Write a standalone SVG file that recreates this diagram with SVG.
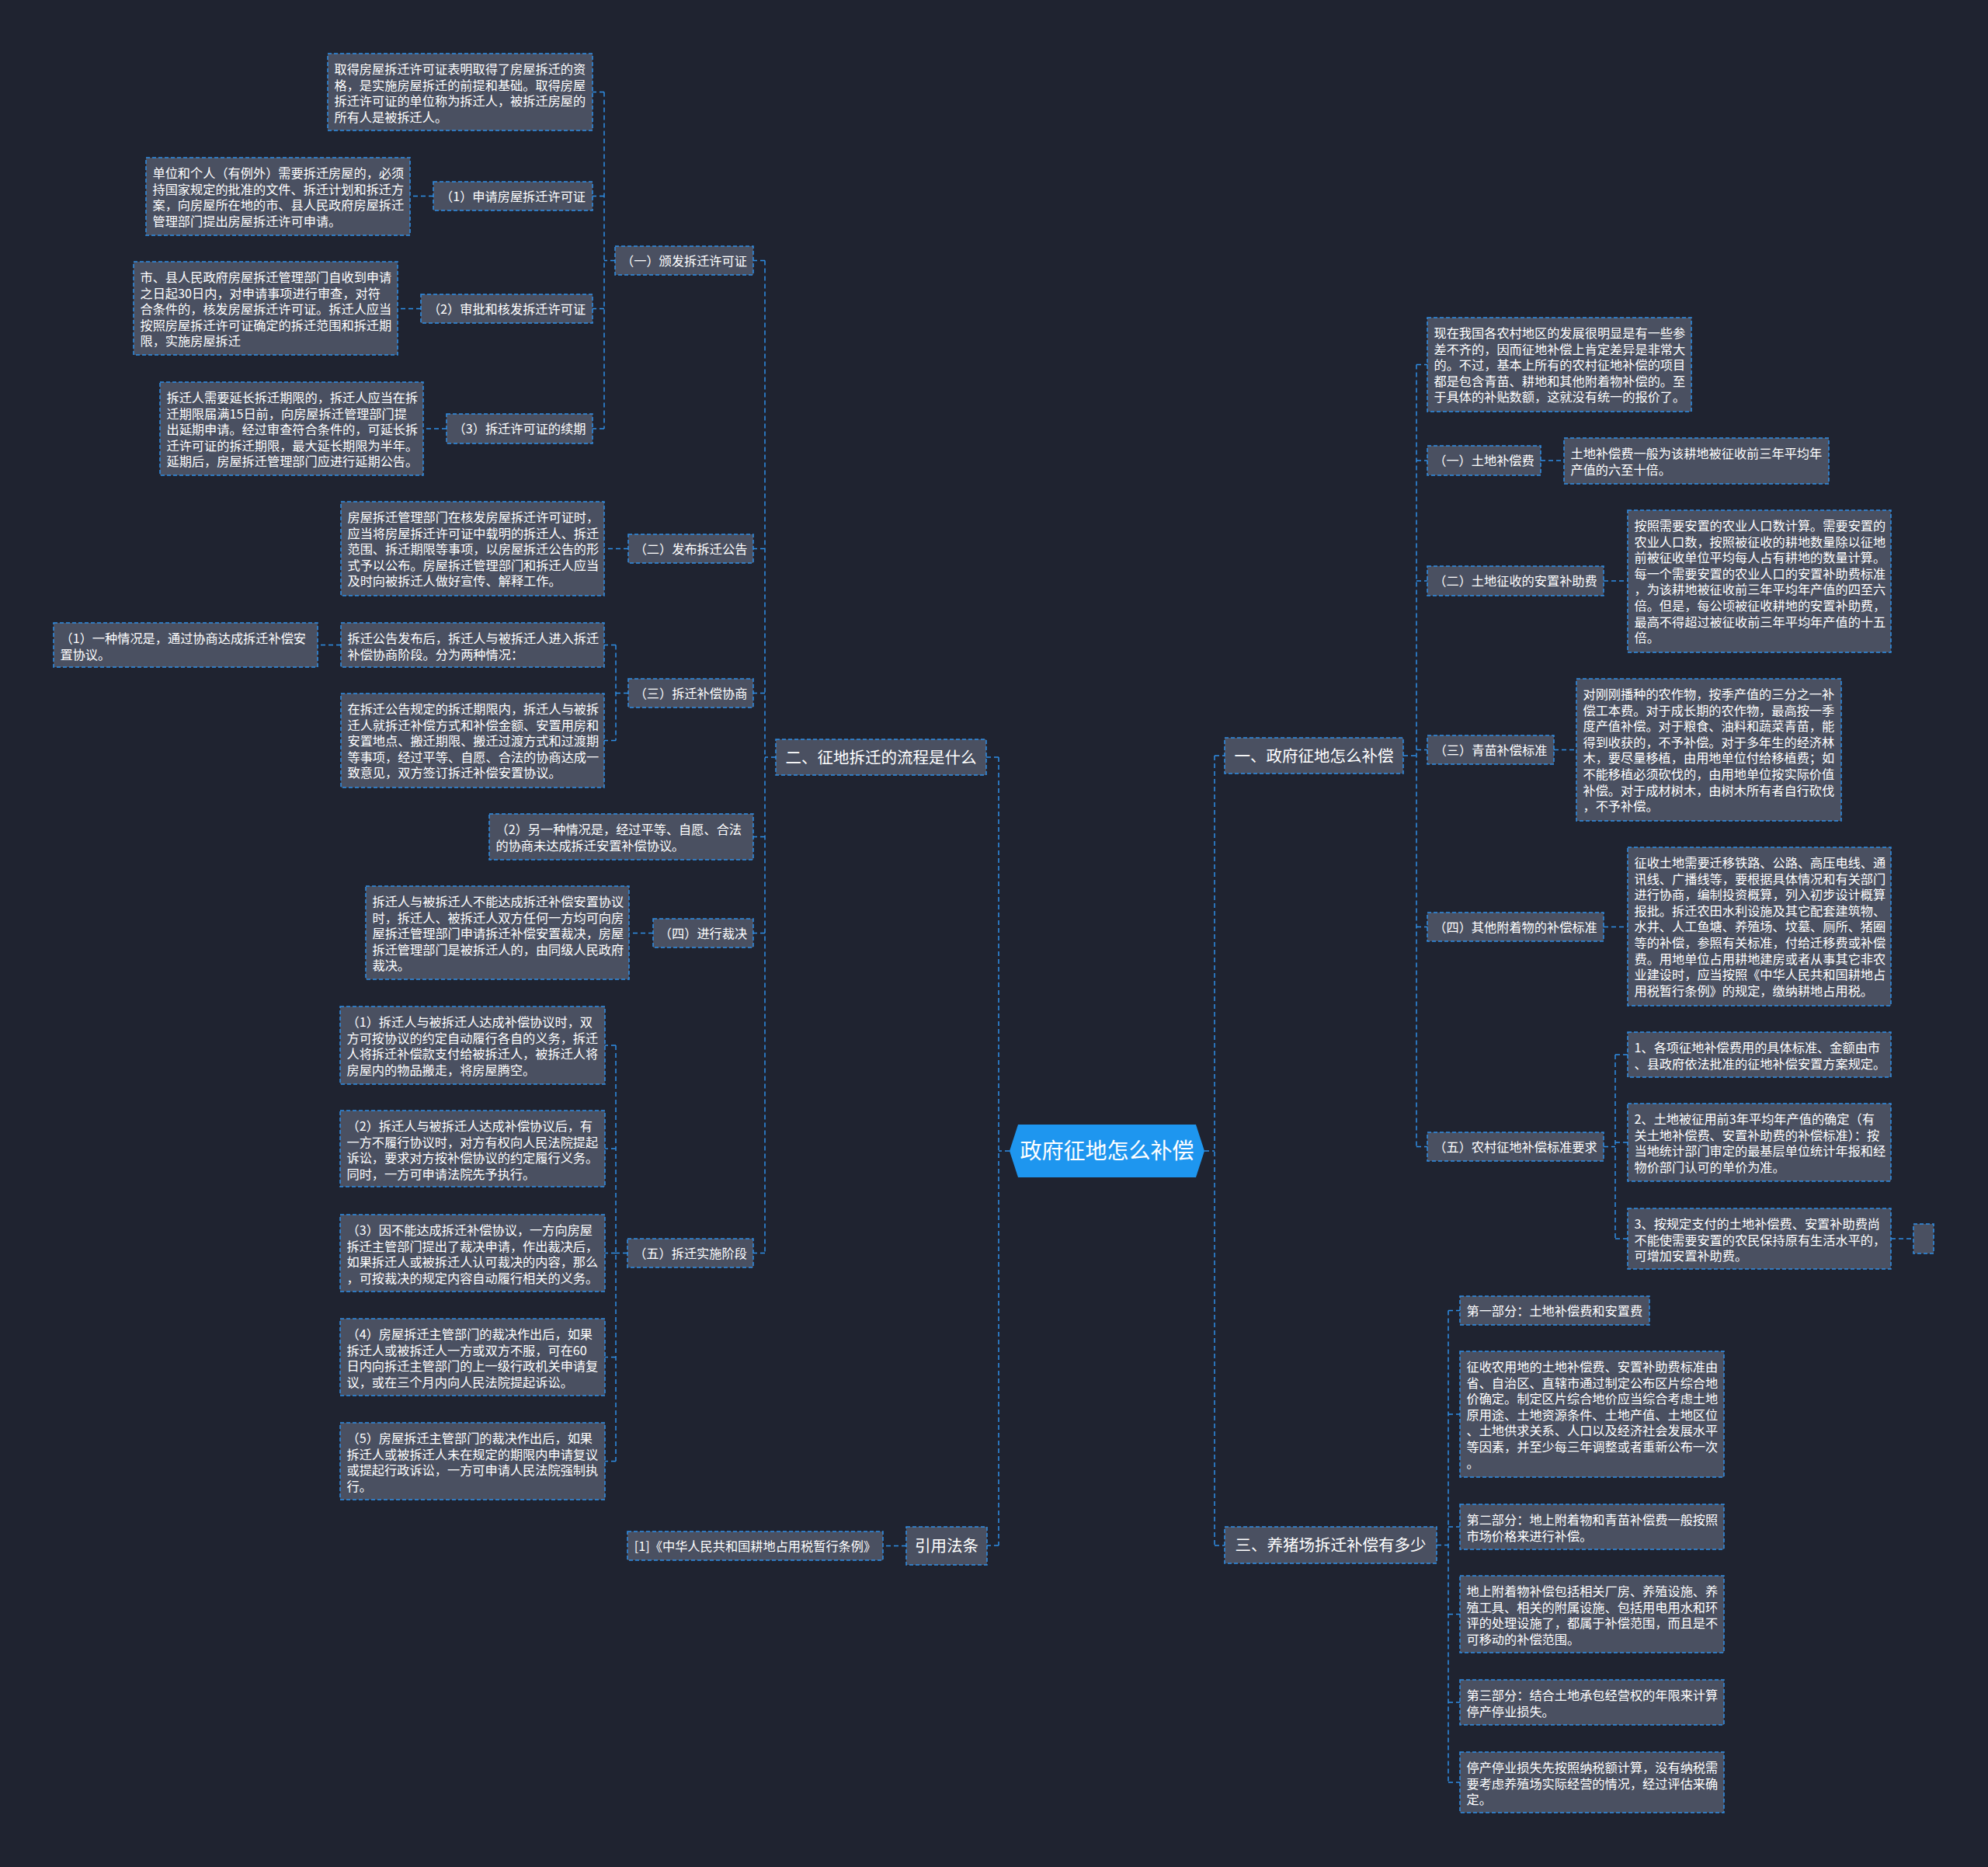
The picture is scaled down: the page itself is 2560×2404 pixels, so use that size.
<svg xmlns="http://www.w3.org/2000/svg" width="2560" height="2404" viewBox="0 0 2560 2404">
<style>
.bg{fill:#1f2330}
.n rect{fill:#4a5061;stroke:#2f8fe6;stroke-width:1.5;stroke-dasharray:5 3}
.n text{font-family:"Noto Sans CJK SC","Noto Sans",sans-serif;font-size:16.2px;fill:#ffffff}
.n text.c{text-anchor:middle}
.m text{font-size:20.5px}
.cn path{fill:none;stroke:#2f8fe6;stroke-width:1.5;stroke-dasharray:6 4}
</style>
<rect class="bg" x="0" y="0" width="2560" height="2404"/>

<g class="cn" id="connectors">
<path d="M1300,1482 H1286 M1286,975 V1990 M1286,975 H1270 M1286,1990 H1271"/>
<path d="M1551,1482 H1564 M1564,973 V1990 M1564,973 H1577 M1564,1990 H1577"/>
<path d="M999,975 H985 M985,335.5 V1613.5 M985,335.5 H970 M985,706.5 H970 M985,892.5 H970 M985,1077.5 H970 M985,1201.5 H970 M985,1613.5 H970"/>
<path d="M792,335.5 H778 M778,118.5 V552 M778,118.5 H763 M778,252.5 H763 M778,397.5 H763 M778,552 H763"/>
<path d="M558,252.5 H528 M542,397.5 H512 M575,552 H545"/>
<path d="M809,706.5 H778"/>
<path d="M809,892.5 H793 M793,830.5 V953.5 M793,830.5 H778 M793,953.5 H778 M439,830.5 H409"/>
<path d="M841,1201.5 H810"/>
<path d="M808,1613.5 H793 M793,1346 V1881.5 M793,1346 H779 M793,1479 H779 M793,1613.5 H779 M793,1747.5 H779 M793,1881.5 H779"/>
<path d="M1167,1990.5 H1137"/>
<path d="M1807,973 H1824 M1824,469.5 V1476.5 M1824,469.5 H1838 M1824,593 H1838 M1824,748 H1838 M1824,965.5 H1838 M1824,1193.5 H1838 M1824,1476.5 H1838"/>
<path d="M1984,593 H2014 M2065,748 H2096 M2001,965.5 H2030 M2065,1193.5 H2096"/>
<path d="M2065,1476.5 H2080 M2080,1358 V1595 M2080,1358 H2096 M2080,1471 H2096 M2080,1595 H2096 M2435,1595 H2464"/>
<path d="M1850,1989.5 H1865 M1865,1687.5 V2295 M1865,1687.5 H1880 M1865,1821 H1880 M1865,1966 H1880 M1865,2078.5 H1880 M1865,2192 H1880 M1865,2295 H1880"/>
</g>

<g id="center">
<polygon points="1300,1482 1311,1448 1540,1448 1551,1482 1540,1516 1311,1516" fill="#1e96ef"/>
<text x="1425.5" y="1492" text-anchor="middle" font-family="Noto Sans CJK SC, Noto Sans, sans-serif" font-size="28" fill="#ffffff">政府征地怎么补偿</text>
</g>

<g class="n m" id="m2"><rect x="999" y="952" width="271" height="46"/><text class="c" x="1134.5" y="982.5">二、征地拆迁的流程是什么</text></g>
<g class="n m" id="m1"><rect x="1577" y="950" width="230" height="46"/><text class="c" x="1692" y="980.5">一、政府征地怎么补偿</text></g>
<g class="n m" id="m3"><rect x="1577" y="1966" width="273" height="47"/><text class="c" x="1713.5" y="1997">三、养猪场拆迁补偿有多少</text></g>
<g class="n m" id="r1"><rect x="1167" y="1966" width="104" height="49"/><text class="c" x="1219" y="1998">引用法条</text></g>
<g class="n" id="r1c"><rect x="808" y="1972" width="329" height="37"/><text class="c" x="972.5" y="1996.5">[1]《中华人民共和国耕地占用税暂行条例》</text></g>

<g class="n" id="k1"><rect x="792" y="317" width="178" height="37"/><text class="c" x="881" y="341.5">（一）颁发拆迁许可证</text></g>
<g class="n" id="na"><rect x="422" y="69" width="341" height="99"/>
<text x="430.5" y="95">取得房屋拆迁许可证表明取得了房屋拆迁的资</text>
<text x="430.5" y="115.6">格，是实施房屋拆迁的前提和基础。取得房屋</text>
<text x="430.5" y="136.2">拆迁许可证的单位称为拆迁人，被拆迁房屋的</text>
<text x="430.5" y="156.8">所有人是被拆迁人。</text></g>
<g class="n" id="l1"><rect x="558" y="234" width="205" height="37"/><text class="c" x="660.5" y="258.5">（1）申请房屋拆迁许可证</text></g>
<g class="n" id="nb"><rect x="188" y="203" width="340" height="100"/>
<text x="196.5" y="229">单位和个人（有例外）需要拆迁房屋的，必须</text>
<text x="196.5" y="249.6">持国家规定的批准的文件、拆迁计划和拆迁方</text>
<text x="196.5" y="270.2">案，向房屋所在地的市、县人民政府房屋拆迁</text>
<text x="196.5" y="290.8">管理部门提出房屋拆迁许可申请。</text></g>
<g class="n" id="l2"><rect x="542" y="379" width="221" height="37"/><text class="c" x="652.5" y="403.5">（2）审批和核发拆迁许可证</text></g>
<g class="n" id="nc"><rect x="172" y="337" width="340" height="120"/>
<text x="180.5" y="363">市、县人民政府房屋拆迁管理部门自收到申请</text>
<text x="180.5" y="383.6">之日起30日内，对申请事项进行审查，对符</text>
<text x="180.5" y="404.2">合条件的，核发房屋拆迁许可证。拆迁人应当</text>
<text x="180.5" y="424.8">按照房屋拆迁许可证确定的拆迁范围和拆迁期</text>
<text x="180.5" y="445.4">限，实施房屋拆迁</text></g>
<g class="n" id="l3"><rect x="575" y="533" width="188" height="38"/><text class="c" x="669" y="558">（3）拆迁许可证的续期</text></g>
<g class="n" id="nd"><rect x="206" y="492" width="339" height="120"/>
<text x="214.5" y="518">拆迁人需要延长拆迁期限的，拆迁人应当在拆</text>
<text x="214.5" y="538.6">迁期限届满15日前，向房屋拆迁管理部门提</text>
<text x="214.5" y="559.2">出延期申请。经过审查符合条件的，可延长拆</text>
<text x="214.5" y="579.8">迁许可证的拆迁期限，最大延长期限为半年。</text>
<text x="214.5" y="600.4">延期后，房屋拆迁管理部门应进行延期公告。</text></g>

<g class="n" id="k2"><rect x="809" y="688" width="161" height="37"/><text class="c" x="889.5" y="712.5">（二）发布拆迁公告</text></g>
<g class="n" id="ne"><rect x="439" y="646" width="339" height="121"/>
<text x="447.5" y="672">房屋拆迁管理部门在核发房屋拆迁许可证时，</text>
<text x="447.5" y="692.6">应当将房屋拆迁许可证中载明的拆迁人、拆迁</text>
<text x="447.5" y="713.2">范围、拆迁期限等事项，以房屋拆迁公告的形</text>
<text x="447.5" y="733.8">式予以公布。房屋拆迁管理部门和拆迁人应当</text>
<text x="447.5" y="754.4">及时向被拆迁人做好宣传、解释工作。</text></g>

<g class="n" id="k3"><rect x="809" y="874" width="161" height="37"/><text class="c" x="889.5" y="898.5">（三）拆迁补偿协商</text></g>
<g class="n" id="ng"><rect x="439" y="802" width="339" height="57"/>
<text x="447.5" y="828">拆迁公告发布后，拆迁人与被拆迁人进入拆迁</text>
<text x="447.5" y="848.6">补偿协商阶段。分为两种情况：</text></g>
<g class="n" id="nf"><rect x="69" y="802" width="340" height="57"/>
<text x="77.5" y="828">（1）一种情况是，通过协商达成拆迁补偿安</text>
<text x="77.5" y="848.6">置协议。</text></g>
<g class="n" id="nh"><rect x="439" y="893" width="339" height="121"/>
<text x="447.5" y="919">在拆迁公告规定的拆迁期限内，拆迁人与被拆</text>
<text x="447.5" y="939.6">迁人就拆迁补偿方式和补偿金额、安置用房和</text>
<text x="447.5" y="960.2">安置地点、搬迁期限、搬迁过渡方式和过渡期</text>
<text x="447.5" y="980.8">等事项，经过平等、自愿、合法的协商达成一</text>
<text x="447.5" y="1001.4">致意见，双方签订拆迁补偿安置协议。</text></g>

<g class="n" id="ni"><rect x="630" y="1048" width="340" height="59"/>
<text x="638.5" y="1074">（2）另一种情况是，经过平等、自愿、合法</text>
<text x="638.5" y="1094.6">的协商未达成拆迁安置补偿协议。</text></g>

<g class="n" id="k4"><rect x="841" y="1183" width="129" height="37"/><text class="c" x="905.5" y="1207.5">（四）进行裁决</text></g>
<g class="n" id="nj"><rect x="471" y="1141" width="339" height="120"/>
<text x="479.5" y="1167">拆迁人与被拆迁人不能达成拆迁补偿安置协议</text>
<text x="479.5" y="1187.6">时，拆迁人、被拆迁人双方任何一方均可向房</text>
<text x="479.5" y="1208.2">屋拆迁管理部门申请拆迁补偿安置裁决，房屋</text>
<text x="479.5" y="1228.8">拆迁管理部门是被拆迁人的，由同级人民政府</text>
<text x="479.5" y="1249.4">裁决。</text></g>

<g class="n" id="k5"><rect x="808" y="1595" width="162" height="37"/><text class="c" x="889" y="1619.5">（五）拆迁实施阶段</text></g>
<g class="n" id="nk1"><rect x="438" y="1296" width="341" height="100"/>
<text x="446.5" y="1322">（1）拆迁人与被拆迁人达成补偿协议时，双</text>
<text x="446.5" y="1342.6">方可按协议的约定自动履行各自的义务，拆迁</text>
<text x="446.5" y="1363.2">人将拆迁补偿款支付给被拆迁人，被拆迁人将</text>
<text x="446.5" y="1383.8">房屋内的物品搬走，将房屋腾空。</text></g>
<g class="n" id="nk2"><rect x="438" y="1430" width="341" height="98"/>
<text x="446.5" y="1456">（2）拆迁人与被拆迁人达成补偿协议后，有</text>
<text x="446.5" y="1476.6">一方不履行协议时，对方有权向人民法院提起</text>
<text x="446.5" y="1497.2">诉讼，要求对方按补偿协议的约定履行义务。</text>
<text x="446.5" y="1517.8">同时，一方可申请法院先予执行。</text></g>
<g class="n" id="nk3"><rect x="438" y="1564" width="341" height="99"/>
<text x="446.5" y="1590">（3）因不能达成拆迁补偿协议，一方向房屋</text>
<text x="446.5" y="1610.6">拆迁主管部门提出了裁决申请，作出裁决后，</text>
<text x="446.5" y="1631.2">如果拆迁人或被拆迁人认可裁决的内容，那么</text>
<text x="446.5" y="1651.8">，可按裁决的规定内容自动履行相关的义务。</text></g>
<g class="n" id="nk4"><rect x="438" y="1698" width="341" height="99"/>
<text x="446.5" y="1724">（4）房屋拆迁主管部门的裁决作出后，如果</text>
<text x="446.5" y="1744.6">拆迁人或被拆迁人一方或双方不服，可在60</text>
<text x="446.5" y="1765.2">日内向拆迁主管部门的上一级行政机关申请复</text>
<text x="446.5" y="1785.8">议，或在三个月内向人民法院提起诉讼。</text></g>
<g class="n" id="nk5"><rect x="438" y="1832" width="341" height="99"/>
<text x="446.5" y="1858">（5）房屋拆迁主管部门的裁决作出后，如果</text>
<text x="446.5" y="1878.6">拆迁人或被拆迁人未在规定的期限内申请复议</text>
<text x="446.5" y="1899.2">或提起行政诉讼，一方可申请人民法院强制执</text>
<text x="446.5" y="1919.8">行。</text></g>

<g class="n" id="p0"><rect x="1838" y="409" width="340" height="121"/>
<text x="1846.5" y="435">现在我国各农村地区的发展很明显是有一些参</text>
<text x="1846.5" y="455.6">差不齐的，因而征地补偿上肯定差异是非常大</text>
<text x="1846.5" y="476.2">的。不过，基本上所有的农村征地补偿的项目</text>
<text x="1846.5" y="496.8">都是包含青苗、耕地和其他附着物补偿的。至</text>
<text x="1846.5" y="517.4">于具体的补贴数额，这就没有统一的报价了。</text></g>
<g class="n" id="q1"><rect x="1838" y="574" width="146" height="38"/><text class="c" x="1911" y="599">（一）土地补偿费</text></g>
<g class="n" id="q1c"><rect x="2014" y="564" width="341" height="59"/>
<text x="2022.5" y="590">土地补偿费一般为该耕地被征收前三年平均年</text>
<text x="2022.5" y="610.6">产值的六至十倍。</text></g>
<g class="n" id="q2"><rect x="1838" y="729" width="227" height="38"/><text class="c" x="1951.5" y="754">（二）土地征收的安置补助费</text></g>
<g class="n" id="q2c"><rect x="2096" y="657" width="339" height="183"/>
<text x="2104.5" y="683">按照需要安置的农业人口数计算。需要安置的</text>
<text x="2104.5" y="703.6">农业人口数，按照被征收的耕地数量除以征地</text>
<text x="2104.5" y="724.2">前被征收单位平均每人占有耕地的数量计算。</text>
<text x="2104.5" y="744.8">每一个需要安置的农业人口的安置补助费标准</text>
<text x="2104.5" y="765.4">，为该耕地被征收前三年平均年产值的四至六</text>
<text x="2104.5" y="786">倍。但是，每公顷被征收耕地的安置补助费，</text>
<text x="2104.5" y="806.6">最高不得超过被征收前三年平均年产值的十五</text>
<text x="2104.5" y="827.2">倍。</text></g>
<g class="n" id="q3"><rect x="1838" y="947" width="163" height="37"/><text class="c" x="1919.5" y="971.5">（三）青苗补偿标准</text></g>
<g class="n" id="q3c"><rect x="2030" y="874" width="341" height="183"/>
<text x="2038.5" y="900">对刚刚播种的农作物，按季产值的三分之一补</text>
<text x="2038.5" y="920.6">偿工本费。对于成长期的农作物，最高按一季</text>
<text x="2038.5" y="941.2">度产值补偿。对于粮食、油料和蔬菜青苗，能</text>
<text x="2038.5" y="961.8">得到收获的，不予补偿。对于多年生的经济林</text>
<text x="2038.5" y="982.4">木，要尽量移植，由用地单位付给移植费；如</text>
<text x="2038.5" y="1003">不能移植必须砍伐的，由用地单位按实际价值</text>
<text x="2038.5" y="1023.6">补偿。对于成材树木，由树木所有者自行砍伐</text>
<text x="2038.5" y="1044.2">，不予补偿。</text></g>
<g class="n" id="q4"><rect x="1838" y="1175" width="227" height="37"/><text class="c" x="1951.5" y="1199.5">（四）其他附着物的补偿标准</text></g>
<g class="n" id="q4c"><rect x="2096" y="1091" width="339" height="204"/>
<text x="2104.5" y="1117">征收土地需要迁移铁路、公路、高压电线、通</text>
<text x="2104.5" y="1137.6">讯线、广播线等，要根据具体情况和有关部门</text>
<text x="2104.5" y="1158.2">进行协商，编制投资概算，列入初步设计概算</text>
<text x="2104.5" y="1178.8">报批。拆迁农田水利设施及其它配套建筑物、</text>
<text x="2104.5" y="1199.4">水井、人工鱼塘、养殖场、坟墓、厕所、猪圈</text>
<text x="2104.5" y="1220">等的补偿，参照有关标准，付给迁移费或补偿</text>
<text x="2104.5" y="1240.6">费。用地单位占用耕地建房或者从事其它非农</text>
<text x="2104.5" y="1261.2">业建设时，应当按照《中华人民共和国耕地占</text>
<text x="2104.5" y="1281.8">用税暂行条例》的规定，缴纳耕地占用税。</text></g>
<g class="n" id="q5"><rect x="1838" y="1458" width="227" height="37"/><text class="c" x="1951.5" y="1482.5">（五）农村征地补偿标准要求</text></g>
<g class="n" id="s1"><rect x="2096" y="1329" width="339" height="58"/>
<text x="2104.5" y="1355">1、各项征地补偿费用的具体标准、金额由市</text>
<text x="2104.5" y="1375.6">、县政府依法批准的征地补偿安置方案规定。</text></g>
<g class="n" id="s2"><rect x="2096" y="1421" width="339" height="100"/>
<text x="2104.5" y="1447">2、土地被征用前3年平均年产值的确定（有</text>
<text x="2104.5" y="1467.6">关土地补偿费、安置补助费的补偿标准）：按</text>
<text x="2104.5" y="1488.2">当地统计部门审定的最基层单位统计年报和经</text>
<text x="2104.5" y="1508.8">物价部门认可的单价为准。</text></g>
<g class="n" id="s3"><rect x="2096" y="1556" width="339" height="78"/>
<text x="2104.5" y="1582">3、按规定支付的土地补偿费、安置补助费尚</text>
<text x="2104.5" y="1602.6">不能使需要安置的农民保持原有生活水平的，</text>
<text x="2104.5" y="1623.2">可增加安置补助费。</text></g>
<g class="n" id="s3c"><rect x="2464" y="1576" width="26" height="38"/></g>

<g class="n" id="t1"><rect x="1880" y="1669" width="244" height="37"/><text x="1888.5" y="1693.5">第一部分：土地补偿费和安置费</text></g>
<g class="n" id="t2"><rect x="1880" y="1740" width="340" height="162"/>
<text x="1888.5" y="1766">征收农用地的土地补偿费、安置补助费标准由</text>
<text x="1888.5" y="1786.6">省、自治区、直辖市通过制定公布区片综合地</text>
<text x="1888.5" y="1807.2">价确定。制定区片综合地价应当综合考虑土地</text>
<text x="1888.5" y="1827.8">原用途、土地资源条件、土地产值、土地区位</text>
<text x="1888.5" y="1848.4">、土地供求关系、人口以及经济社会发展水平</text>
<text x="1888.5" y="1869">等因素，并至少每三年调整或者重新公布一次</text>
<text x="1888.5" y="1889.6">。</text></g>
<g class="n" id="t3"><rect x="1880" y="1937" width="340" height="58"/>
<text x="1888.5" y="1963">第二部分：地上附着物和青苗补偿费一般按照</text>
<text x="1888.5" y="1983.6">市场价格来进行补偿。</text></g>
<g class="n" id="t4"><rect x="1880" y="2029" width="340" height="99"/>
<text x="1888.5" y="2055">地上附着物补偿包括相关厂房、养殖设施、养</text>
<text x="1888.5" y="2075.6">殖工具、相关的附属设施、包括用电用水和环</text>
<text x="1888.5" y="2096.2">评的处理设施了，都属于补偿范围，而且是不</text>
<text x="1888.5" y="2116.8">可移动的补偿范围。</text></g>
<g class="n" id="t5"><rect x="1880" y="2163" width="340" height="58"/>
<text x="1888.5" y="2189">第三部分：结合土地承包经营权的年限来计算</text>
<text x="1888.5" y="2209.6">停产停业损失。</text></g>
<g class="n" id="t6"><rect x="1880" y="2256" width="340" height="78"/>
<text x="1888.5" y="2282">停产停业损失先按照纳税额计算，没有纳税需</text>
<text x="1888.5" y="2302.6">要考虑养殖场实际经营的情况，经过评估来确</text>
<text x="1888.5" y="2323.2">定。</text></g>
</svg>
